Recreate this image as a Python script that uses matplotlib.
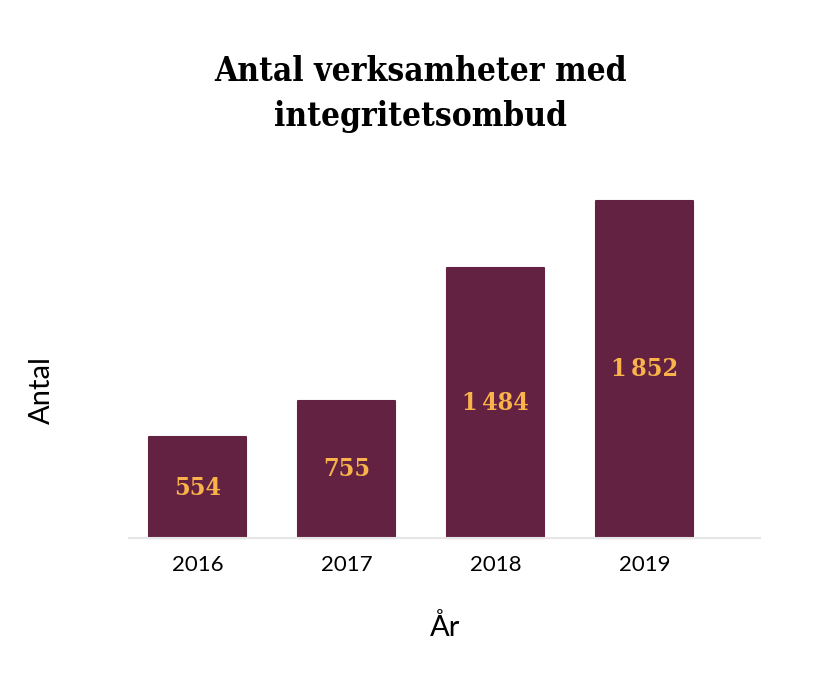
import matplotlib.pyplot as plt

years = ['2016', '2017', '2018', '2019']
antal = [554, 755, 1484, 1852]
labels = ['554', '755', '1\u2009484', '1\u2009852']

bar_color = '#632241'
num_color = '#f9b34a'

fig = plt.figure(figsize=(8.4, 6.75), dpi=100)
ax = fig.add_axes([129/840, 137/675, 631/840, 337/675])

x = range(len(years))
ax.bar(x, antal, width=0.65, color=bar_color, edgecolor=bar_color,
       linewidth=1.5, joinstyle='round', clip_on=False, zorder=2)
for i, v in enumerate(antal):
    ax.text(i, v/2, labels[i], ha='center', va='center',
            color=num_color, fontsize=18, fontweight='heavy',
            fontstretch='condensed', family=['DejaVu Serif'])

ax.set_xlim(-0.46, 3.775)
ax.set_ylim(0, max(antal))
ax.set_xticks(list(x))
ax.set_xticklabels(years, fontsize=16, family=['Lato', 'DejaVu Sans'])
ax.tick_params(axis='x', length=0, pad=12)
ax.set_yticks([])
for s in ['top', 'right', 'left']:
    ax.spines[s].set_visible(False)
ax.spines['bottom'].set_color('#e6e6e6')
ax.spines['bottom'].set_linewidth(1.5)

fig.text(42/840, 1 - 390/675, 'Antal', rotation=90, ha='center', va='center',
         fontsize=21, family=['Lato', 'DejaVu Sans'])
fig.text(445/840, 1 - 627/675, 'År', ha='center', va='center',
         fontsize=21, family=['Lato', 'DejaVu Sans'])
fig.text(420/840, 1 - 94/675, 'Antal verksamheter med\nintegritetsombud',
         ha='center', va='center', fontsize=24, fontweight='heavy',
         fontstretch='condensed', linespacing=1.45, family=['DejaVu Serif'])

fig.savefig('out.png', dpi=100)
